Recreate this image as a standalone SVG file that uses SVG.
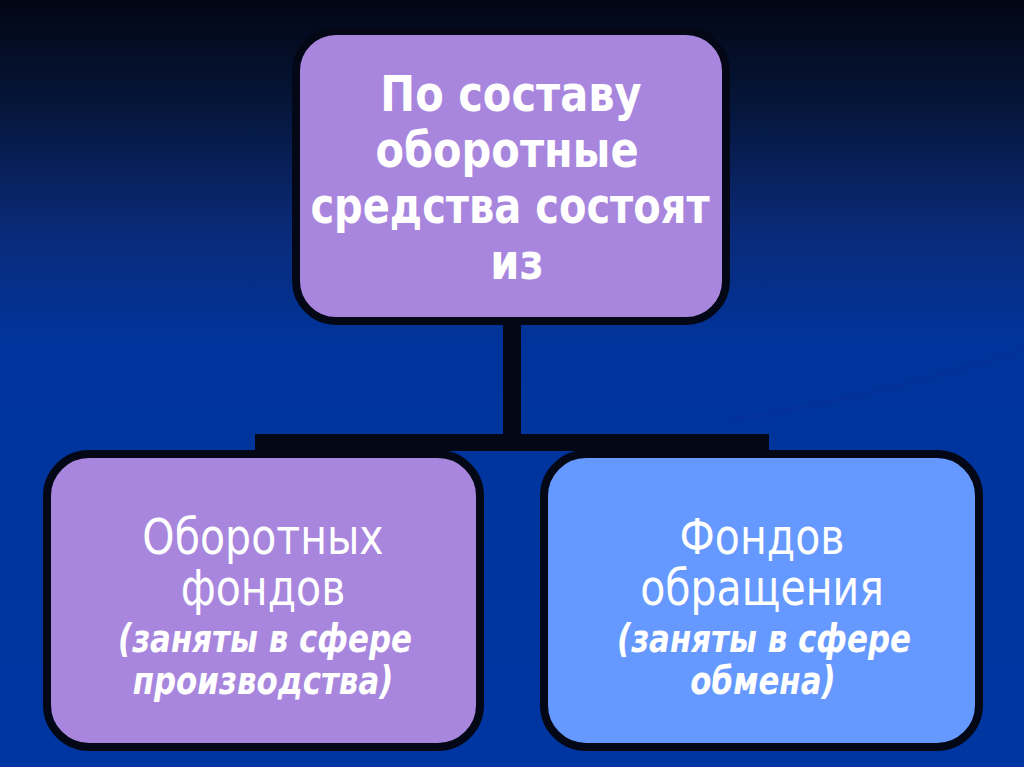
<svg xmlns="http://www.w3.org/2000/svg" width="1024" height="767" viewBox="0 0 1024 767">
<defs>
<linearGradient id="bg" x1="0" y1="0" x2="0" y2="1">
<stop offset="0" stop-color="#020614"/>
<stop offset="0.12" stop-color="#051434"/>
<stop offset="0.3" stop-color="#0a2a78"/>
<stop offset="0.45" stop-color="#00349c"/>
<stop offset="1" stop-color="#0036a2"/>
</linearGradient>
<style>
.box{stroke:#040816;stroke-width:8}
.purple{fill:#a886de}
.blue{fill:#6699ff}
.conn{fill:#040816}
.t{fill:#ffffff;text-anchor:middle;font-family:"DejaVu Sans","Liberation Sans",sans-serif}
.hb{font-weight:bold;font-size:40px}
.reg{font-size:38px}
.it{font-weight:bold;font-style:italic;font-size:30px}
</style>
</defs>
<rect x="0" y="0" width="1024" height="767" fill="url(#bg)"/>
<path d="M730 420 C860 400 960 370 1024 350" fill="none" stroke="#04309a" stroke-width="6" opacity="0.6"/>
<g id="connectors">
<rect class="conn" x="503" y="320" width="18" height="118"/>
<rect class="conn" x="255" y="434" width="514" height="17"/>
</g>
<g id="node-top">
<rect class="box purple" x="296" y="31" width="430" height="290" rx="40"/>
<text class="t hb" transform="translate(511,111) scale(1.04,1.25)">По составу</text>
<text class="t hb" transform="translate(507,167) scale(1.04,1.25)">оборотные</text>
<text class="t hb" transform="translate(510,223) scale(1.0,1.25)">средства состоят</text>
<text class="t hb" transform="translate(517,279) scale(1.04,1.25)">из</text>
</g>
<g id="node-left">
<rect class="box purple" x="47" y="454" width="433" height="293" rx="42"/>
<text class="t reg" transform="translate(263,554) scale(1.08,1.3)">Оборотных</text>
<text class="t reg" transform="translate(263,605) scale(1.08,1.3)">фондов</text>
<text class="t it" transform="translate(265,652) scale(1.03,1.3)">(заняты в сфере</text>
<text class="t it" transform="translate(263,694) scale(1.03,1.3)">производства)</text>
</g>
<g id="node-right">
<rect class="box blue" x="544" y="454" width="435" height="293" rx="42"/>
<text class="t reg" transform="translate(762,554) scale(1.08,1.3)">Фондов</text>
<text class="t reg" transform="translate(762,605) scale(1.08,1.3)">обращения</text>
<text class="t it" transform="translate(764,652) scale(1.03,1.3)">(заняты в сфере</text>
<text class="t it" transform="translate(763,694) scale(1.03,1.3)">обмена)</text>
</g>
</svg>
